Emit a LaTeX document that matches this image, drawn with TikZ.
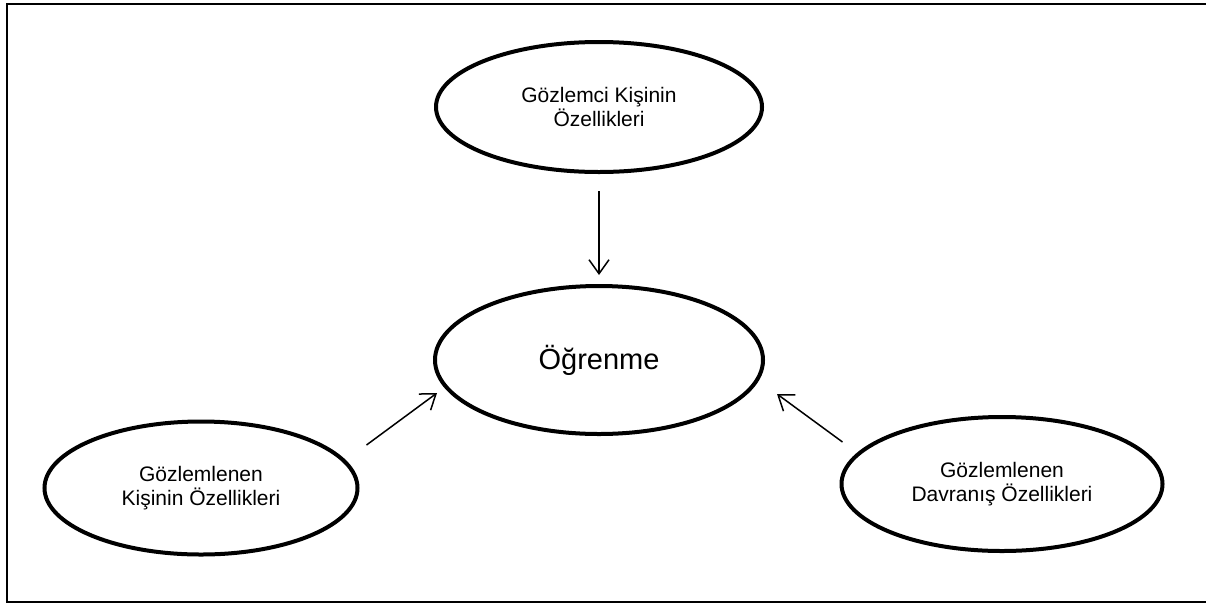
\documentclass[tikz,border=0pt]{standalone}
\usepackage{fontspec}
\setmainfont{Liberation Sans}
\usepackage{tikz}
\usetikzlibrary{arrows.meta,positioning,calc,shapes.geometric}

\begin{document}
\begin{tikzpicture}[
  x=1pt, y=-1pt,
  bubble/.style={draw, ellipse, line width=4pt, inner sep=0pt, align=center,
                 font=\fontsize{21}{24.5}\selectfont},
  arrow/.style={-{Straight Barb[length=14pt,width=20pt]}, line width=1.5pt},
]
\useasboundingbox (0,0) rectangle (1206,603);

% Frame (right side cut off)
\draw[line width=2pt] (1212,4) -- (7,4) -- (7,601.5) -- (1212,601.5);

% Centre: learning
\node[bubble, minimum width=328pt, minimum height=148pt,
      font=\fontsize{29}{34}\selectfont] (learn) at (599,360) {Öğrenme};

% Three factors
\node[bubble, minimum width=326pt, minimum height=130pt, above=110pt of learn] (obs)
  {Gözlemci Kişinin\\Özellikleri};
\node[bubble, minimum width=313pt, minimum height=133pt] (model) at ($(learn)+(-398,128)$)
  {Gözlemlenen\\Kişinin Özellikleri};
\node[bubble, minimum width=321pt, minimum height=134pt] (behav) at ($(learn)+(403,124)$)
  {Gözlemlenen\\Davranış Özellikleri};

\draw[arrow] ($(obs.south)+(0,17)$) -- ($(learn.north)+(0,-9)$);
\draw[arrow] ($(model.east)+(7,-43)$) -- ($(learn.west)+(4,33)$);
\draw[arrow] ($(behav.west)+(3,-42)$) -- ($(learn.east)+(12,34)$);
\end{tikzpicture}
\end{document}
